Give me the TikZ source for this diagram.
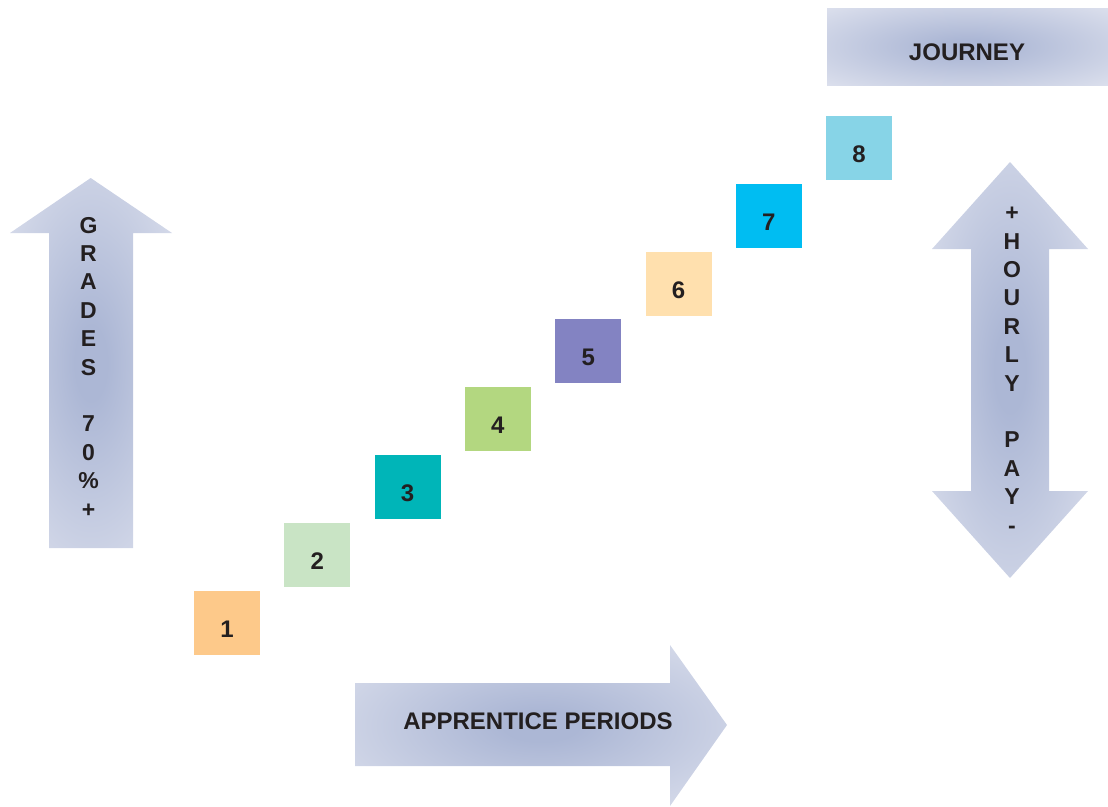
\documentclass[tikz,border=0pt]{standalone}
\usepackage{fontspec}
\setmainfont{Liberation Sans}
\definecolor{txt}{HTML}{231F20}
\definecolor{arin}{RGB}{172,183,213}
\definecolor{arout}{RGB}{226,229,240}
\definecolor{c1}{HTML}{FDC98A}
\definecolor{c2}{HTML}{C9E4C5}
\definecolor{c3}{HTML}{00B5B8}
\definecolor{c4}{HTML}{B3D780}
\definecolor{c5}{HTML}{8383C2}
\definecolor{c6}{HTML}{FFE0AE}
\definecolor{c7}{HTML}{00BDF2}
\definecolor{c8}{HTML}{87D4E7}
\pgfdeclareradialshading{softrad}{\pgfpoint{0bp}{0bp}}{color(0bp)=(arin); color(5bp)=(arin); color(40bp)=(arout); color(50bp)=(arout)}
\begin{document}
\begin{tikzpicture}[x=1pt,y=-1pt,
  sqbox/.style={minimum width=66pt, minimum height=64pt, inner sep=0pt, draw=none,
    font=\fontsize{24}{24}\selectfont\bfseries, text=txt, text height=29pt, text depth=0pt},
  arrowfill/.style={shading=softrad},
  lab/.style={font=\fontsize{24}{24}\selectfont\bfseries, text=txt, inner sep=0pt},
  vl/.style={font=\fontsize{23}{23}\selectfont\bfseries, text=txt, inner sep=0pt, anchor=base}]
\useasboundingbox (0,0) rectangle (1108,806);
% JOURNEY box
\shade[arrowfill] (827,8) rectangle (1108,85);
\node[lab] (journey) at (967,52) {JOURNEY};
% left up arrow
\shade[arrowfill] (49,548) -- (49,233) -- (10,233) -- (90.7,178) -- (172,233) -- (133,233) -- (133,548) -- cycle;
\foreach \ch [count=\i] in {G,R,A,D,E,S,{},7,0,\%,+}
  \node[vl] (gl\i) at (88.5,{233+(\i-1)*28.4}) {\ch};
% right double arrow
\shade[arrowfill] (971,491) -- (971,249) -- (932,249) -- (1010,162) -- (1088,249) -- (1049,249) -- (1049,491) -- (1088,491) -- (1010,578) -- (932,491) -- cycle;
\foreach \ch [count=\i] in {+,H,O,U,R,L,Y,{},P,A,Y,-}
  \node[vl] (hl\i) at (1012,{220.6+(\i-1)*28.4}) {\ch};
% bottom right arrow
\shade[arrowfill] (355,683) -- (670,683) -- (670,645) -- (727,725) -- (670,806) -- (670,766) -- (355,766) -- cycle;
\node[lab] (appr) at (538,721) {APPRENTICE PERIODS};
% squares
\foreach \i in {1,...,8}
  \node[sqbox, fill=c\i] (s\i) at ({227+(\i-1)*90.3},{623-(\i-1)*67.9}) {\i};
\end{tikzpicture}
\end{document}
